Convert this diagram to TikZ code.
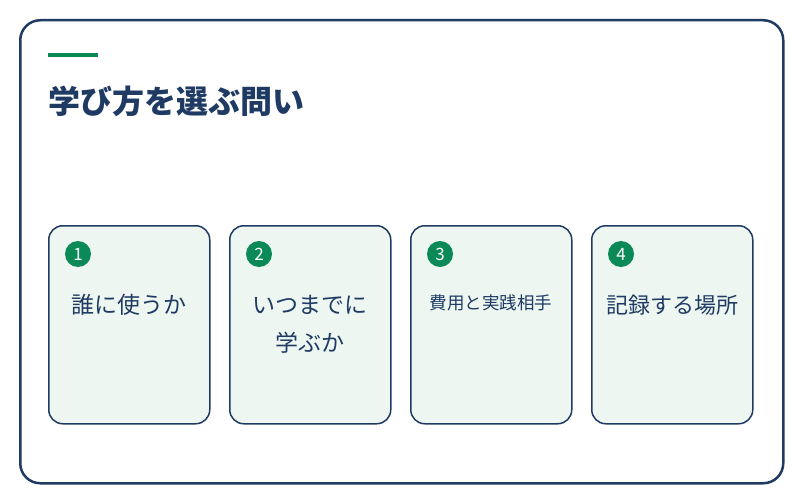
\documentclass[tikz,border=0pt]{standalone}
\usepackage{fontspec}
\usepackage{xcolor}
\setmainfont{Noto Sans CJK JP}
\definecolor{navy}{HTML}{1F3B63}
\definecolor{leaf}{HTML}{0B8A57}
\definecolor{mint}{HTML}{EEF6F1}

\begin{document}
\begin{tikzpicture}[x=1pt, y=-1pt,
    card/.style={draw=navy, line width=1.5pt, rounded corners=14pt, fill=mint, minimum width=161pt, minimum height=198pt, anchor=north west},
    badge/.style={circle, fill=leaf, text=white, minimum size=26pt, inner sep=0pt, font=\fontsize{17}{17}\selectfont},
    label/.style={text=navy, align=center, font=\fontsize{23}{38}\selectfont}]
    \useasboundingbox (0,0) rectangle (800,500);
    
    % Outer frame
    \node[draw=navy, line width=2.5pt, rounded corners=20pt, minimum width=763pt, minimum height=463pt, anchor=north west] (frame) at (19,19) {};
    
    % Title
    \node[fill=leaf, minimum width=50pt, minimum height=3.5pt, inner sep=0pt, anchor=north west] (bar) at (48,53) {};
    \node[text=navy, anchor=west, inner sep=0pt, font=\fontsize{32}{32}\selectfont\bfseries] (title) at (48,101) {学び方を選ぶ問い};
    
    % Cards
    \node[card] (card1) at (48,225) {};
    \node[card] (card2) at (229,225) {};
    \node[card] (card3) at (410,225) {};
    \node[card] (card4) at (591,225) {};
    
    % Numbers
    \node[badge] (num1) at (78,254) {1};
    \node[badge] (num2) at (259,254) {2};
    \node[badge] (num3) at (440,254) {3};
    \node[badge] (num4) at (621,254) {4};
    
    % Questions
    \node[label] (q1) at (129,305) {誰に使うか};
    \node[label] (q2) at (310,324) {いつまでに\\学ぶか};
    \node[label, font=\fontsize{17.5}{20}\selectfont] (q3) at (491,303) {費用と実践相手};
    \node[label, font=\fontsize{22}{22}\selectfont] (q4) at (672,305) {記録する場所};
\end{tikzpicture}
\end{document}
